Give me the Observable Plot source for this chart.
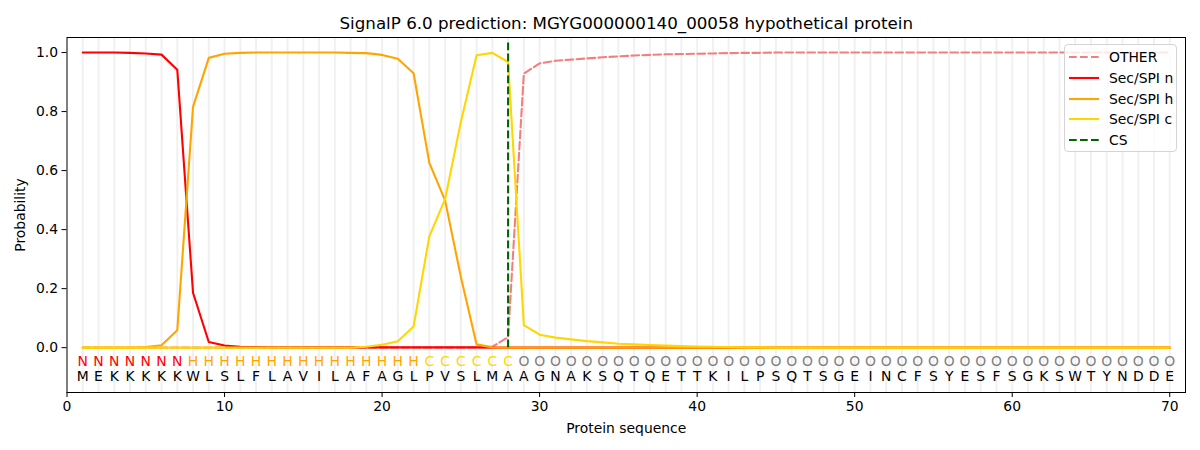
<!DOCTYPE html>
<html>
<head>
<meta charset="utf-8">
<script src="https://cdn.jsdelivr.net/npm/d3@7"></script>
<script src="https://cdn.jsdelivr.net/npm/@observablehq/plot@0.6"></script>
<style>
  html, body { margin: 0; padding: 0; background: #fff; }
  #wrap { position: relative; width: 1200px; height: 450px; font-family: "DejaVu Sans", sans-serif; }
  #legend { position: absolute; left: 1064px; top: 44px; width: 113px; height: 108px; box-sizing: border-box;
            border: 1px solid #d4d4d4; border-radius: 4px; background: rgba(255,255,255,0.8); font-size: 13.9px; color: #000; }
  .row { position: absolute; left: 4px; height: 20px; display: flex; align-items: center; }
  .row span { margin-left: 10px; white-space: nowrap; }
</style>
</head>
<body>
<div id="wrap"></div>
<script>
const title = "SignalP 6.0 prediction: MGYG000000140_00058 hypothetical protein";
const sequence = "MEKKKKKWLSLFLAVILAFAGLPVSLMAAGNAKSQTQETTKILPSQTSGEINCFSYESFSGKSWTYNDDE".split("");
const regions = "NNNNNNNHHHHHHHHHHHHHHHCCCCCCOOOOOOOOOOOOOOOOOOOOOOOOOOOOOOOOOOOOOOOOOO".split("");
const positions = sequence.map((_, i) => i + 1);

const other = [0,0,0,0,0,0,0,0,0,0, 0,0,0,0,0,0,0,0,0,0, 0,0,0,0,0,0,0.003,0.036,0.929,0.963,
  0.972,0.976,0.980,0.984,0.987,0.990,0.992,0.994,0.995,0.996, 0.997,0.998,0.999,0.999,1,1,1,1,1,1,
  1,1,1,1,1,1,1,1,1,1, 1,1,1,1,1,1,1,1,1,1];
const secN = [1.0,1.0,1.0,0.999,0.997,0.993,0.942,0.186,0.019,0.007, 0.003,0.002,0.001,0.001,0.001,0.001,0.001,0.001,0.001,0.001,
  0.001,0.001,0.001,0.001,0.001,0.001,0,0,0,0, 0,0,0,0,0,0,0,0,0,0, 0,0,0,0,0,0,0,0,0,0,
  0,0,0,0,0,0,0,0,0,0, 0,0,0,0,0,0,0,0,0,0];
const secH = [0,0,0,0,0.002,0.008,0.059,0.816,0.982,0.996, 0.999,1,1,1,1,1,1,0.999,0.998,0.992,
  0.979,0.930,0.626,0.499,0.240,0.011,0.001,0,0,0, 0,0,0,0,0,0,0,0,0,0, 0,0,0,0,0,0,0,0,0,0,
  0,0,0,0,0,0,0,0,0,0, 0,0,0,0,0,0,0,0,0,0];
const secC = [0,0,0,0,0,0,0,0,0,0, 0,0,0,0,0,0,0,0,0.003,0.010,
  0.022,0.072,0.377,0.503,0.765,0.991,0.999,0.968,0.076,0.044, 0.034,0.028,0.022,0.018,0.013,0.011,0.009,0.007,0.005,0.004,
  0.003,0.002,0.001,0.001,0,0,0,0,0,0, 0,0,0,0,0,0,0,0,0,0, 0,0,0,0,0,0,0,0,0,0];
const csPos = [28];
const xTicks = [0, 10, 20, 30, 40, 50, 60, 70];
const yTicks = [0, 0.2, 0.4, 0.6, 0.8, 1.0];

const regionColor = {N: "red", H: "orange", C: "gold", O: "gray"};
const series = [
  {name: "OTHER", values: other, color: "#f08080", dash: "7.7,3.3"},
  {name: "Sec/SPI n", values: secN, color: "red", dash: null},
  {name: "Sec/SPI h", values: secH, color: "orange", dash: null},
  {name: "Sec/SPI c", values: secC, color: "gold", dash: null}
];

const lineMarks = series.map(s => Plot.line(positions, {
  x: d => d, y: (d, i) => s.values[i], stroke: s.color, strokeWidth: 2.1,
  strokeDasharray: s.dash, curve: "linear"
}));

const chart = Plot.plot({
  width: 1200, height: 450,
  marginLeft: 66.5, marginRight: 15, marginTop: 37, marginBottom: 58,
  style: {fontFamily: "DejaVu Sans, sans-serif", fontSize: "13.9px", color: "#000", background: "#fff"},
  x: {domain: [0, 71]},
  y: {domain: [-0.152, 1.051]},
  marks: [
    Plot.ruleX(positions, {x: d => d, stroke: "#000", strokeOpacity: 0.06, strokeWidth: 2}),
    ...lineMarks,
    Plot.ruleX(csPos, {x: d => d, y1: 0, y2: 1.035, stroke: "darkgreen", strokeWidth: 2.1, strokeDasharray: "7.7,3.3"}),
    Plot.text(positions, {x: d => d, y: -0.046, text: (d, i) => regions[i], fill: (d, i) => regionColor[regions[i]], fontSize: 13.9}),
    Plot.text(positions, {x: d => d, y: -0.099, text: (d, i) => sequence[i], fill: "#000", fontSize: 13.9}),
    Plot.frame({stroke: "#000", strokeWidth: 1}),
    Plot.axisX({ticks: xTicks, tickSize: 5, tickPadding: 4, label: "Protein sequence", labelAnchor: "center", labelArrow: "none", labelOffset: 40, fontSize: 13.9}),
    Plot.axisY({ticks: yTicks, tickSize: 5, tickPadding: 4, tickFormat: d3.format(".1f"), label: "Probability", labelAnchor: "center", labelArrow: "none", labelOffset: 52, fontSize: 13.9}),
    Plot.text([title], {frameAnchor: "top", dy: -14, fontSize: 16.7, fill: "#000", lineAnchor: "middle"})
  ]
});

const wrap = document.getElementById("wrap");
wrap.appendChild(chart);

const legend = document.createElement("div");
legend.id = "legend";
const entries = [
  {name: "OTHER", color: "#f08080", dash: "7.7,3.3"},
  {name: "Sec/SPI n", color: "red", dash: null},
  {name: "Sec/SPI h", color: "orange", dash: null},
  {name: "Sec/SPI c", color: "gold", dash: null},
  {name: "CS", color: "darkgreen", dash: "7.7,3.3"}
];
entries.forEach((e, i) => {
  const row = document.createElement("div");
  row.className = "row";
  row.style.top = (2 + i * 20.8) + "px";
  row.innerHTML = `<svg width="30" height="6"><line x1="0" x2="30" y1="3" y2="3" stroke="${e.color}" stroke-width="2.1" ${e.dash ? `stroke-dasharray="${e.dash}"` : ""}/></svg><span>${e.name}</span>`;
  legend.appendChild(row);
});
wrap.appendChild(legend);
</script>
</body>
</html>
